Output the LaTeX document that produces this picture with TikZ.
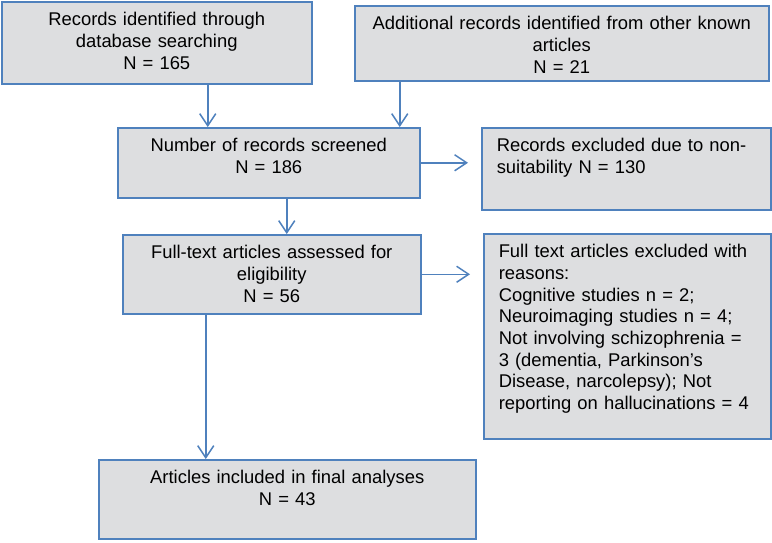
\documentclass[tikz,border=0pt]{standalone}
\usepackage{fontspec}
\setmainfont{Liberation Sans}
\usepackage{xcolor}
\usepackage{tikz}
\usetikzlibrary{positioning,shadows,arrows.meta}

\definecolor{boxfill}{RGB}{221,222,224}
\definecolor{boxline}{RGB}{79,129,189}

\tikzset{
  box/.style={draw=boxline, fill=boxfill, line width=1.5pt, anchor=north west,
    drop shadow={shadow xshift=1.5pt, shadow yshift=-1.5pt, fill=black!45, opacity=0.6},
    font=\fontsize{18.4}{21.7}\selectfont, align=center,
    inner xsep=8pt, inner ysep=12pt, text height=12pt},
  leftbox/.style={box, align=left, inner xsep=15pt},
  link/.style={->, draw=boxline, line width=1.5pt}
}

\begin{document}
\begin{tikzpicture}[x=1pt, y=-1pt, >={Straight Barb[length=12pt,width=16pt]}]
            \useasboundingbox (0,0) rectangle (772,542);
            \draw node[box, text width=294pt, text depth=46pt] (records) at (1,1)
                 {Records identified through\\database searching\\N = 165} ;
            \draw node[box, text width=398pt, text depth=39pt] (others) at (354,5)
                 {Additional records identified from other known\\articles\\N = 21} ;
            \draw node[box, text width=286pt, text depth=34pt] (screened) at (117,127)
                 {Number of records screened\\N = 186} ;
            \draw node[leftbox, text width=259pt, text depth=46pt] (excluded) at (481,127)
                 {Records excluded due to non-\\suitability N = 130} ;
            \draw node[box, text width=282pt, text depth=43pt] (assessed) at (122,234)
                 {Full-text articles assessed for\\eligibility\\N = 56} ;
            \draw node[leftbox, text width=257pt, text depth=169pt] (reasons) at (483,233)
                 {Full text articles excluded with\\reasons:\\Cognitive studies n = 2;\\
                  Neuroimaging studies n = 4;\\Not involving schizophrenia =\\
                  3 (dementia, Parkinson’s\\Disease, narcolepsy); Not\\
                  reporting on hallucinations = 4} ;
            \draw node[box, text width=361pt, text depth=43pt] (included) at (98,459)
                 {Articles included in final analyses\\N = 43} ;
            \draw[link] ([xshift=51pt]records.south) -- ([xshift=51pt]records.south |- screened.north) ;
            \draw[link] ([xshift=-162pt]others.south) -- ([xshift=-162pt]others.south |- screened.north) ;
            \draw[link] (screened.east) -- ([xshift=-13pt]screened.east -| excluded.west) ;
            \draw[link] ([xshift=18pt]screened.south) -- ([xshift=18pt]screened.south |- assessed.north) ;
            \draw[link] (assessed.east) -- ([xshift=-13pt]assessed.east -| reasons.west) ;
            \draw[link] ([xshift=-66pt]assessed.south) -- ([xshift=-66pt]assessed.south |- included.north) ;
        \end{tikzpicture}
\end{document}
